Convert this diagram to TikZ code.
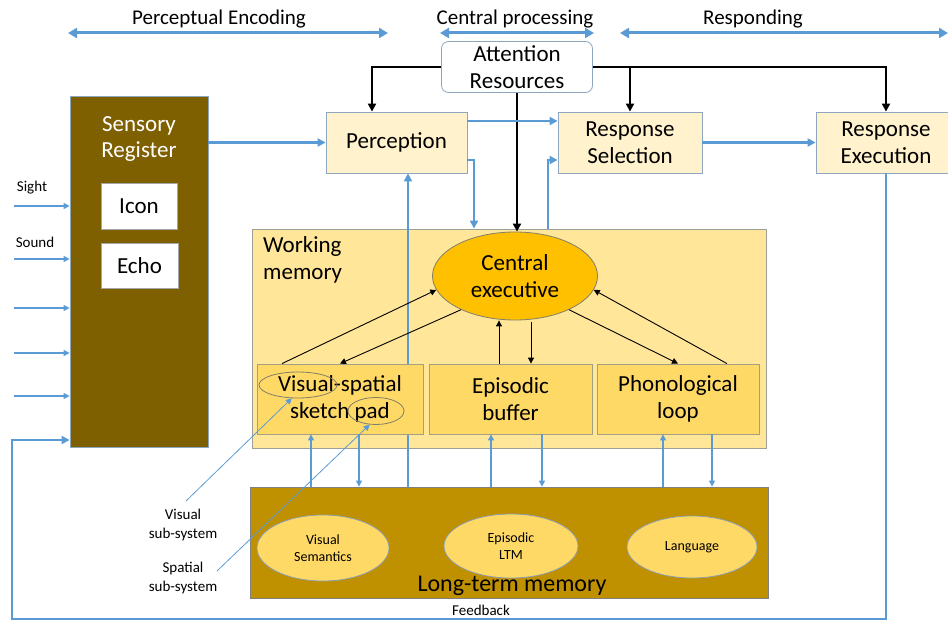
\documentclass[tikz,border=0pt]{standalone}
\usepackage{fontspec}
\setmainfont{Carlito}
\usetikzlibrary{arrows.meta, positioning, shapes.geometric}
\definecolor{lineblue}{HTML}{5B9BD5}
\definecolor{boxedge}{HTML}{8FA6C1}
\definecolor{goldedge}{HTML}{A39E84}
\definecolor{cream}{HTML}{FFF2CC}
\definecolor{wmfill}{HTML}{FFE699}
\definecolor{subfill}{HTML}{FFD966}
\definecolor{cefill}{HTML}{FFC000}
\definecolor{ltmfill}{HTML}{BF9000}
\definecolor{srfill}{HTML}{7F6000}
\tikzstyle{stage}   = [draw=boxedge, fill=cream, line width=0.8pt, minimum height=61pt, align=center, inner sep=0pt]
\tikzstyle{subbox}  = [draw=goldedge, fill=subfill, line width=0.8pt, minimum height=70pt, align=center, inner sep=0pt]
\tikzstyle{store}   = [draw=boxedge!80!gray, fill=subfill, line width=0.8pt, ellipse, inner sep=0pt, align=center]

\begin{document}
\begin{tikzpicture}[
        x=1pt, y=-1pt,
        big/.style={font=\fontsize{23}{26.5}\selectfont},
        small/.style={font=\fontsize{15}{18.5}\selectfont},
        bluearr/.style={draw=lineblue, line width=2.5pt, -{Triangle[length=8pt,width=8pt]}},
        thinarr/.style={draw=lineblue, line width=1.1pt, -{Triangle[length=6pt,width=6pt]}},
        blackarr/.style={draw=black, line width=2.5pt, -{Triangle[length=8pt,width=8pt]}},
        wmarr/.style={draw=black, line width=0.9pt, -{Triangle[length=6pt,width=6pt]}},
        phase/.style={draw=lineblue, line width=3pt, {Triangle[length=9pt,width=10pt]}-{Triangle[length=9pt,width=10pt]}}
    ]
        \useasboundingbox (0,0) rectangle (948,620);

        % stages along the top
        \node[font=\fontsize{21}{24}\selectfont] (pelbl) at (219,19) {Perceptual Encoding};
        \node[font=\fontsize{21}{24}\selectfont] (cplbl) at (515,19) {Central processing};
        \node[font=\fontsize{21}{24}\selectfont] (rplbl) at (753,19) {Responding};
        \coordinate (pe1) at (68,33);  \coordinate (pe2) at (388,33);
        \coordinate (cp1) at (440,33); \coordinate (cp2) at (594,33);
        \coordinate (rp1) at (620,33); \coordinate (rp2) at (948,33);
        \draw[phase] (pe1) -- (pe2);
        \draw[phase] (cp1) -- (cp2);
        \draw[phase] (rp1) -- (rp2);

        % sensory register
        \node[draw=boxedge, fill=srfill, line width=0.8pt, minimum width=138pt, minimum height=351pt] (sr) at (139,271.5) {};
        \node[big, text=white, align=center] (srlbl) at (139,139) {Sensory\\Register};
        \node[big, draw=gray!70, fill=white, minimum width=76pt, minimum height=46pt] (icon) at (139,206) {Icon};
        \node[big, draw=gray!70, fill=white, minimum width=77pt, minimum height=45pt] (echo) at (139.5,265.5) {Echo};

        \foreach \y [count=\i] in {206,259,308,353,396} {
            \coordinate (in\i) at (14,\y);
            \draw[thinarr] (in\i) -- (in\i -| sr.west);
        }
        \node[small] (sight) at (32,188) {Sight};
        \node[small] (sound) at (35,242) {Sound};

        % processing stages
        \node[stage, big, minimum width=141pt] (perc) at (396.5,142.5) {Perception};
        \node[stage, big, minimum width=144pt] (rsel) at (630,142.5) {Response\\Selection};
        \node[stage, big, minimum width=140pt] (rexe) at (886,142.5) {Response\\Execution};
        \node[big, draw=boxedge, fill=white, line width=0.8pt, rounded corners=7pt, minimum width=151pt, minimum height=51pt, align=center, inner sep=0pt] (att) at (517,67) {Attention\\Resources};

        % working memory and long-term memory
        \node[draw=goldedge!70!boxedge, fill=wmfill, line width=0.8pt, minimum width=514pt, minimum height=219pt] (wm) at (509,338.5) {};
        \node[big, anchor=west, align=left, inner sep=0pt] (wmlbl) at (263,260) {Working\\memory};

        \node[draw=gray, fill=ltmfill, line width=0.8pt, minimum width=518pt, minimum height=111pt] (ltm) at (509,542.5) {};
        \node[store, font=\fontsize{14}{17}\selectfont, minimum width=132pt, minimum height=66pt] (vsem) at (323,548) {Visual\\Semantics};
        \node[store, font=\fontsize{14}{17}\selectfont, minimum width=134pt, minimum height=64pt] (eltm) at (511,546) {Episodic\\LTM};
        \node[store, font=\fontsize{14}{17}\selectfont, minimum width=130pt, minimum height=62pt] (lang) at (692,547) {Language};
        \node[font=\fontsize{24}{27}\selectfont] (ltmlbl) at (512,586) {Long-term memory};

        \draw[bluearr] ([xshift=-101pt]ltm.north) -- ([xshift=11.5pt]perc.south);

        \node[subbox, big, minimum width=166pt] (vs) at (340,399) {Visual-spatial\\sketch pad};
        \node[subbox, big, minimum width=163pt] (eb) at (510.5,399) {Episodic\\buffer};
        \node[subbox, big, minimum width=162pt] (pl) at (678,399) {Phonological\\loop};
        \node[draw=goldedge!80!black, line width=0.8pt, ellipse, minimum width=78pt, minimum height=26pt] (vsell) at (298,385) {};
        \node[draw=goldedge!80!black, line width=0.8pt, ellipse, minimum width=56pt, minimum height=27pt] (padell) at (376,411) {};
        \node[big, draw=goldedge!80!black, fill=cefill, line width=0.8pt, ellipse, minimum width=165pt, minimum height=88pt, inner sep=0pt, align=center] (ce) at (515,276) {Central\\executive};

        % attention
        \draw[blackarr] (att.west) -| ([xshift=-24.5pt]perc.north);
        \draw[blackarr] (att.east) -| (rexe.north);
        \draw[blackarr] (rsel.north |- att.east) -- (rsel.north);
        \draw[blackarr] (att.south) -- (att.south |- ce.north);

        % information flow
        \draw[bluearr] (sr.east |- perc.west) -- (perc.west);
        \draw[bluearr] ([yshift=21.5pt]perc.east) -- ([yshift=21.5pt]perc.east -| rsel.west);
        \draw[bluearr] ([yshift=-17.5pt]perc.east) -| ([xshift=-35pt]wm.north);
        \draw[bluearr] ([xshift=39pt]wm.north) |- ([yshift=-17.5pt]rsel.west);
        \draw[bluearr] (rsel.east) -- (rexe.west);

        % feedback
        \coordinate (fb1) at (12,619);
        \coordinate (fb2) at (12,440);
        \draw[bluearr] (rexe.south) |- (fb1) -- (fb2) -- (fb2 -| sr.west);
        \node[small] (fblbl) at (481,610) {Feedback};

        % inside working memory
        \draw[wmarr] ([xshift=-58pt]vs.north) -- (ce.190);
        \draw[wmarr] (ce.212) -- (vs.north);
        \draw[wmarr] ([xshift=-11.5pt]eb.north) -- ([xshift=-11.5pt]eb.north |- ce.south);
        \draw[wmarr] ([xshift=20.5pt,yshift=-2pt]eb.north |- ce.south) -- ([xshift=20.5pt]eb.north);
        \draw[wmarr] (ce.328) -- (pl.north);
        \draw[wmarr] ([xshift=49pt]pl.north) -- (ce.350);

        % working memory <-> long-term memory
        \foreach \b/\u/\d in {vs/-29/19, eb/-19.5/31.5, pl/-15/34} {
            \draw[thinarr] ([xshift=\u pt]\b.south |- ltm.north) -- ([xshift=\u pt]\b.south);
            \draw[thinarr] ([xshift=\d pt]\b.south) -- ([xshift=\d pt]\b.south |- ltm.north);
        }

        % sub-systems
        \node[small, align=center] (vsub) at (183,525) {Visual\\sub-system};
        \node[small, align=center] (ssub) at (183,578) {Spatial\\sub-system};
        \coordinate (vsubend) at (186,501);
        \coordinate (ssubend) at (217,571);
        \draw[thinarr, line width=0.8pt] (vsubend) -- (vsell.245);
        \draw[thinarr, line width=0.8pt] (ssubend) -- (padell.245);

    \end{tikzpicture}
\end{document}
